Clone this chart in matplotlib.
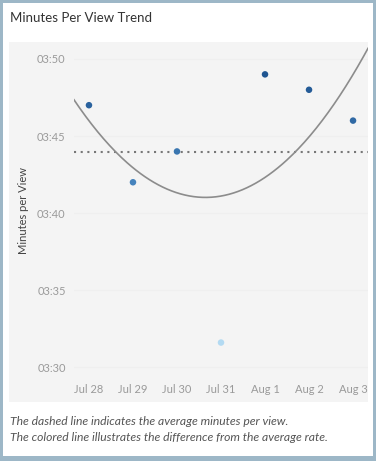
#!/usr/bin/env python3
import numpy as np
import matplotlib
matplotlib.use('Agg')
import matplotlib.pyplot as plt
from matplotlib.colors import LinearSegmentedColormap
from matplotlib.patches import Rectangle
from matplotlib.ticker import FuncFormatter

# minutes per view, stored in seconds
days = ['Jul 28', 'Jul 29', 'Jul 30', 'Jul 31', 'Aug 1', 'Aug 2', 'Aug 3']
seconds = [227, 222, 224, 211.6, 229, 228, 226]
y_ticks = [210, 215, 220, 225, 230]

W, H = 376, 461


def fx(px):
    return px / W


def fy(py):
    return 1 - py / H


def mmss(v, pos=None):
    v = int(round(v))
    return '%02d:%02d' % (v // 60, v % 60)


plt.rcParams['font.family'] = ['Lato', 'DejaVu Sans']

fig = plt.figure(figsize=(W / 100, H / 100), dpi=100)
fig.patch.set_facecolor('#9db7c7')
# white card inside the border
fig.add_artist(Rectangle((fx(3), fy(456)), fx(370), 453 / H, transform=fig.transFigure,
                         facecolor='white', edgecolor='none', zorder=0))
# gray pane
fig.add_artist(Rectangle((fx(9), fy(402)), fx(359), 360 / H, transform=fig.transFigure,
                         facecolor='#f4f4f4', edgecolor='none', zorder=0))

fig.text(fx(10), fy(18), 'Minutes Per View Trend', fontsize=9.5, color='#333333',
         ha='left', va='center')

ax = fig.add_axes([fx(74), fy(378), fx(294), 336 / H])
ax.set_facecolor('none')
x = np.arange(len(days))
y = np.array(seconds)

x0, x1 = -0.34, 6.34
ax.set_xlim(x0, x1)
ax.set_ylim(209.3, 231.1)

ax.set_yticks(y_ticks)
ax.yaxis.set_major_formatter(FuncFormatter(mmss))
ax.set_xticks(x)
ax.set_xticklabels(days)
ax.tick_params(length=0, colors='#9a9a9a', labelsize=8)
ax.tick_params(axis='y', pad=6)
ax.tick_params(axis='x', pad=4)
for s in ax.spines.values():
    s.set_visible(False)
ax.grid(axis='y', color='#efefef', linewidth=0.8)
ax.set_axisbelow(True)

# average line
avg = y.mean()
ax.axhline(avg, color='#777777', linewidth=1.5, linestyle=(0, (1, 2.2)), zorder=2)

# quadratic trend
coef = np.polyfit(x, y, 2)
xs = np.linspace(x0, x1, 200)
ax.plot(xs, np.polyval(coef, xs), color='#8c8c8c', linewidth=1.2, zorder=2)

cmap = LinearSegmentedColormap.from_list('blues', ['#b3daf2', '#4f8ec8', '#1f5591'])
ax.scatter(x, y, c=y, cmap=cmap, s=22, edgecolors='none', zorder=3)

fig.text(fx(24), fy(210), 'Minutes per View', rotation=90, fontsize=8, color='#444444',
         ha='center', va='center')

fig.text(fx(10), fy(421), 'The dashed line indicates the average minutes per view.',
         fontsize=8.7, style='italic', color='#555555', ha='left', va='center')
fig.text(fx(10), fy(437), 'The colored line illustrates the difference from the average rate.',
         fontsize=8.7, style='italic', color='#555555', ha='left', va='center')

fig.savefig('out.png', dpi=100)
